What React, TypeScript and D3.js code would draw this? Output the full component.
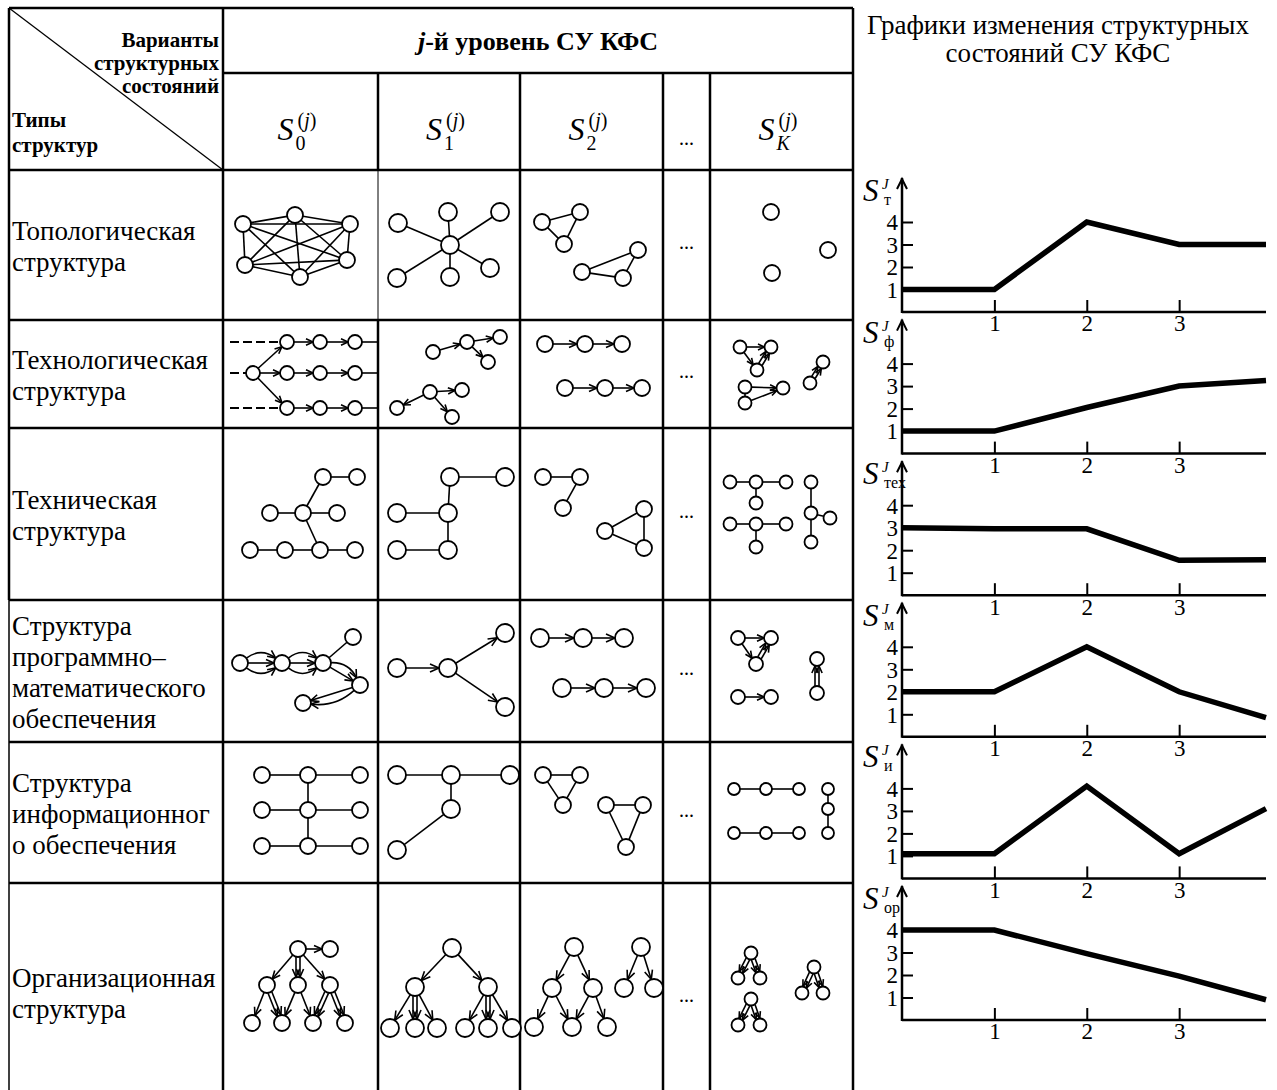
import React, { useRef, useEffect } from 'react';
import * as d3 from 'd3';

// ---- table texts ----
const headerCorner = ['Варианты', 'структурных', 'состояний'];
const headerTypes = ['Типы', 'структур'];
const stateSubs = ['0', '1', '2', '', 'K'];
const rowLabels = [
  ['Топологическая', 'структура'],
  ['Технологическая', 'структура'],
  ['Техническая', 'структура'],
  ['Структура', 'программно–', 'математического', 'обеспечения'],
  ['Структура', 'информационног', 'о обеспечения'],
  ['Организационная', 'структура'],
];

// ---- charts ----
const chartTitle = ['Графики изменения структурных', 'состояний СУ КФС'];
const chartSubs = ['т', 'ф', 'тех', 'м', 'и', 'ор'];
const stateX = [0, 1, 2, 3, 3.94];
const sT = [1, 1, 4, 3, 3];
const sF = [1, 1, 2.05, 3, 3.25];
const sTex = [3, 2.95, 2.95, 1.55, 1.58];
const sM = [2, 2, 4, 2, 0.85];
const sI = [1.1, 1.1, 4.1, 1.1, 3.1];
const sOr = [4, 4, 2.95, 1.95, 0.9];
const chartSeries = [sT, sF, sTex, sM, sI, sOr];
const xTicks = [1, 2, 3];
const yTicks = [1, 2, 3, 4];

// ---- structure graphs: node offsets inside a cell, edges [from, to, kind, bend] ----
type Edge = [number, number, string, number?];
interface Cell { row: number; col: number; r: number; nodes: number[][]; edges: Edge[] }

const topoCells: Cell[] = [
  { row: 0, col: 1, r: 8, nodes: [[20, 54], [72, 45], [127, 54], [22, 95], [124, 90], [77, 107]],
    edges: [[0, 1, 'l'], [0, 2, 'l'], [0, 3, 'l'], [0, 4, 'l'], [0, 5, 'l'], [1, 2, 'l'], [1, 3, 'l'], [1, 4, 'l'],
      [1, 5, 'l'], [2, 3, 'l'], [2, 4, 'l'], [2, 5, 'l'], [3, 4, 'l'], [3, 5, 'l'], [4, 5, 'l']] },
  { row: 0, col: 2, r: 9, nodes: [[72, 75], [20, 53], [70, 42], [122, 42], [19, 108], [72, 107], [112, 98]],
    edges: [[0, 1, 'l'], [0, 2, 'l'], [0, 3, 'l'], [0, 4, 'l'], [0, 5, 'l'], [0, 6, 'l']] },
  { row: 0, col: 3, r: 8, nodes: [[22, 52], [60, 42], [44, 74], [62, 102], [118, 80], [103, 108]],
    edges: [[0, 1, 'l'], [1, 2, 'l'], [2, 0, 'l'], [3, 4, 'l'], [4, 5, 'l'], [5, 3, 'l']] },
  { row: 0, col: 5, r: 8, nodes: [[61, 42], [118, 80], [62, 103]], edges: [] },
];

const technoCells: Cell[] = [
  { row: 1, col: 1, r: 7,
    nodes: [[64, 22], [97, 22], [132, 22], [30, 53], [64, 53], [97, 53], [132, 53], [64, 88], [97, 88], [132, 88],
      [7, 22, 0], [7, 53, 0], [7, 88, 0], [155, 22, 0], [155, 53, 0], [155, 88, 0]],
    edges: [[10, 0, 'd'], [11, 3, 'd'], [12, 7, 'd'], [0, 1, 'a'], [1, 2, 'a'], [3, 4, 'a'], [4, 5, 'a'], [5, 6, 'a'],
      [7, 8, 'a'], [8, 9, 'a'], [3, 0, 'a'], [3, 7, 'a'], [2, 13, 'l'], [6, 14, 'l'], [9, 15, 'l']] },
  { row: 1, col: 2, r: 7, nodes: [[55, 32], [89, 22], [122, 17], [110, 42], [19, 88], [52, 72], [84, 70], [74, 97]],
    edges: [[0, 1, 'a'], [1, 2, 'a'], [1, 3, 'a'], [5, 4, 'a'], [5, 6, 'a'], [5, 7, 'a']] },
  { row: 1, col: 3, r: 8, nodes: [[25, 24], [65, 24], [102, 24], [45, 68], [85, 68], [122, 68]],
    edges: [[0, 1, 'a'], [1, 2, 'a'], [3, 4, 'a'], [4, 5, 'a']] },
  { row: 1, col: 5, r: 6.5, nodes: [[30, 27], [61, 27], [47, 50], [35, 67], [35, 83], [73, 68], [100, 63], [113, 42]],
    edges: [[0, 1, 'a'], [0, 2, 'a'], [2, 1, 'a2'], [3, 5, 'a'], [4, 5, 'a'], [3, 4, 'l'], [6, 7, 'a2']] },
];

const techCells: Cell[] = [
  { row: 2, col: 1, r: 8, nodes: [[100, 49], [134, 49], [47, 85], [80, 85], [114, 85], [27, 122], [62, 122], [97, 122], [132, 122]],
    edges: [[0, 1, 'l'], [3, 0, 'l'], [2, 3, 'l'], [3, 4, 'l'], [3, 7, 'l'], [5, 6, 'l'], [6, 7, 'l'], [7, 8, 'l']] },
  { row: 2, col: 2, r: 9, nodes: [[72, 49], [127, 49], [19, 85], [70, 85], [19, 122], [70, 122]],
    edges: [[0, 1, 'l'], [0, 3, 'l'], [2, 3, 'l'], [3, 5, 'l'], [4, 5, 'l']] },
  { row: 2, col: 3, r: 8, nodes: [[23, 49], [60, 49], [43, 80], [85, 103], [124, 81], [124, 120]],
    edges: [[0, 1, 'l'], [1, 2, 'l'], [3, 4, 'l'], [4, 5, 'l'], [5, 3, 'l']] },
  { row: 2, col: 5, r: 6.5,
    nodes: [[20, 54], [46, 54], [76, 54], [46, 75], [20, 96], [46, 96], [76, 96], [46, 119], [101, 54], [101, 85], [120, 90], [101, 114]],
    edges: [[0, 1, 'l'], [1, 2, 'l'], [1, 3, 'l'], [4, 5, 'l'], [5, 6, 'l'], [5, 7, 'l'], [8, 9, 'l'], [9, 10, 'l'], [9, 11, 'l']] },
];

const softCells: Cell[] = [
  { row: 3, col: 1, r: 8, nodes: [[17, 63], [59, 63], [100, 63], [130, 37], [137, 85], [80, 103]],
    edges: [[0, 1, 'a'], [0, 1, 'a', -16], [0, 1, 'a', 16], [1, 2, 'a'], [1, 2, 'a', -16], [1, 2, 'a', 16], [2, 3, 'l'],
      [2, 4, 'a'], [2, 4, 'a', -14], [4, 5, 'a'], [4, 5, 'a', -14]] },
  { row: 3, col: 2, r: 9, nodes: [[19, 68], [70, 68], [127, 33], [127, 107]],
    edges: [[0, 1, 'a'], [1, 2, 'a'], [1, 3, 'a']] },
  { row: 3, col: 3, r: 9, nodes: [[20, 38], [63, 38], [104, 38], [42, 88], [84, 88], [126, 88]],
    edges: [[0, 1, 'a'], [1, 2, 'a'], [3, 4, 'a'], [4, 5, 'a']] },
  { row: 3, col: 5, r: 7, nodes: [[28, 38], [61, 38], [46, 64], [28, 97], [61, 97], [107, 59], [107, 93]],
    edges: [[0, 1, 'a'], [0, 2, 'a'], [2, 1, 'a2'], [3, 4, 'a'], [6, 5, 'a2']] },
];

const infoCells: Cell[] = [
  { row: 4, col: 1, r: 8, nodes: [[39, 33], [85, 33], [137, 33], [39, 68], [85, 68], [137, 68], [39, 104], [85, 104], [137, 104]],
    edges: [[0, 1, 'l'], [1, 2, 'l'], [3, 4, 'l'], [4, 5, 'l'], [6, 7, 'l'], [7, 8, 'l'], [1, 4, 'l'], [4, 7, 'l']] },
  { row: 4, col: 2, r: 9, nodes: [[19, 33], [73, 33], [132, 33], [73, 67], [19, 108]],
    edges: [[0, 1, 'l'], [1, 2, 'l'], [1, 3, 'l'], [3, 4, 'l']] },
  { row: 4, col: 3, r: 8, nodes: [[23, 33], [60, 33], [43, 63], [86, 63], [123, 63], [106, 105]],
    edges: [[0, 1, 'l'], [1, 2, 'l'], [2, 0, 'l'], [3, 4, 'l'], [4, 5, 'l'], [5, 3, 'l']] },
  { row: 4, col: 5, r: 6, nodes: [[24, 47], [56, 47], [89, 47], [24, 91], [56, 91], [89, 91], [118, 47], [118, 67], [118, 91]],
    edges: [[0, 1, 'l'], [1, 2, 'l'], [3, 4, 'l'], [4, 5, 'l'], [6, 7, 'l'], [7, 8, 'l']] },
];

const orgCells: Cell[] = [
  { row: 5, col: 1, r: 8, nodes: [[75, 66], [107, 66], [44, 102], [75, 102], [107, 102], [29, 140], [59, 140], [90, 140], [122, 140]],
    edges: [[0, 1, 'a'], [0, 2, 'a'], [0, 3, 'a2'], [0, 4, 'a'], [2, 5, 'a'], [2, 6, 'a2'], [3, 6, 'a'], [3, 7, 'a'],
      [4, 7, 'a2'], [4, 8, 'a2']] },
  { row: 5, col: 2, r: 9, nodes: [[74, 65], [37, 104], [110, 104], [12, 145], [37, 145], [59, 145], [87, 145], [110, 145], [134, 145]],
    edges: [[0, 1, 'a'], [0, 2, 'a'], [1, 3, 'a'], [1, 4, 'a2'], [1, 5, 'a'], [2, 6, 'a'], [2, 7, 'a2'], [2, 8, 'a']] },
  { row: 5, col: 3, r: 9, nodes: [[54, 64], [32, 105], [73, 105], [14, 144], [52, 144], [87, 144], [121, 64], [104, 105], [134, 105]],
    edges: [[0, 1, 'a'], [0, 2, 'a'], [1, 3, 'a'], [1, 4, 'a'], [2, 4, 'a'], [2, 5, 'a'], [6, 7, 'a'], [6, 8, 'a']] },
  { row: 5, col: 5, r: 6.5, nodes: [[41, 70], [28, 95], [50, 95], [41, 116], [28, 142], [50, 142], [104, 84], [92, 110], [113, 110]],
    edges: [[0, 1, 'a2'], [0, 2, 'a2'], [3, 4, 'a2'], [3, 5, 'a2'], [6, 7, 'a2'], [6, 8, 'a2']] },
];

const allCells = [...topoCells, ...technoCells, ...techCells, ...softCells, ...infoCells, ...orgCells];

const SERIF = '"Liberation Serif", "Times New Roman", serif';
const W = 1277;
const H = 1090;

const App: React.FC = () => {
  const svgRef = useRef<SVGSVGElement | null>(null);

  useEffect(() => {
    const svg = d3.select(svgRef.current);
    svg.selectAll('*').remove();
    svg.append('rect').attr('width', W).attr('height', H).attr('fill', '#fff');

    // table grid
    const colX = [9, 223, 378, 520, 663, 710, 853];
    const rowY = [8, 73, 170, 320, 428, 600, 742, 883, 1101];
    const grid = svg.append('g').attr('stroke', '#000').attr('stroke-width', 2.5).attr('fill', 'none');
    const hl = (x1: number, x2: number, y: number, w = 2.5) =>
      grid.append('line').attr('x1', x1).attr('x2', x2).attr('y1', y).attr('y2', y).attr('stroke-width', w);
    const vl = (x: number, y1: number, y2: number, w = 2.5) =>
      grid.append('line').attr('x1', x).attr('x2', x).attr('y1', y1).attr('y2', y2).attr('stroke-width', w);
    hl(colX[0], colX[6], rowY[0]);
    hl(colX[1], colX[6], rowY[1]);
    rowY.slice(2, 8).forEach(y => hl(colX[0], colX[6], y));
    vl(colX[0], rowY[0], 600);
    vl(colX[0], 600, H, 1.5);
    vl(colX[1], rowY[0], H);
    vl(colX[2], rowY[1], rowY[2]);
    vl(colX[2], rowY[2], rowY[3], 1);
    vl(colX[2], rowY[3], H);
    [3, 4, 5].forEach(i => vl(colX[i], rowY[1], H));
    vl(colX[6], rowY[0], H);
    grid.append('line').attr('x1', colX[0]).attr('y1', rowY[0]).attr('x2', colX[1]).attr('y2', rowY[2])
      .attr('stroke-width', 1.3);

    // header texts
    const head = svg.append('g').attr('font-family', SERIF).attr('fill', '#000');
    headerCorner.forEach((t, i) =>
      head.append('text').attr('x', 219).attr('y', 47 + i * 23).attr('text-anchor', 'end')
        .attr('font-size', 21).attr('font-weight', 'bold').text(t));
    headerTypes.forEach((t, i) =>
      head.append('text').attr('x', 12).attr('y', 127 + i * 25).attr('font-size', 21).attr('font-weight', 'bold').text(t));
    const lvl = head.append('text').attr('x', (colX[1] + colX[6]) / 2).attr('y', 50).attr('text-anchor', 'middle')
      .attr('font-size', 26).attr('font-weight', 'bold');
    lvl.append('tspan').attr('font-style', 'italic').text('j');
    lvl.append('tspan').text('-й уровень СУ КФС');

    stateSubs.forEach((sub, i) => {
      const c = i + 1;
      const cx = (colX[c] + colX[c + 1]) / 2;
      if (sub === '') {
        head.append('text').attr('x', cx).attr('y', 145).attr('text-anchor', 'middle').attr('font-size', 20).text('...');
        return;
      }
      const s = head.append('text').attr('x', cx - 23).attr('y', 140).attr('font-size', 32);
      s.append('tspan').attr('font-style', 'italic').text('S');
      head.append('text').attr('x', cx - 5).attr('y', 150).attr('font-size', 20)
        .attr('font-style', sub === 'K' ? 'italic' : 'normal').text(sub);
      const sup = head.append('text').attr('x', cx - 3).attr('y', 127).attr('font-size', 20);
      sup.append('tspan').text('(');
      sup.append('tspan').attr('font-style', 'italic').text('j');
      sup.append('tspan').text(')');
    });

    // row labels and ellipses
    rowLabels.forEach((lines, i) => {
      const top = rowY[i + 2];
      const bottom = rowY[i + 3];
      const cy = (top + bottom) / 2;
      const lh = 31;
      lines.forEach((t, k) =>
        head.append('text').attr('x', 12).attr('y', cy - ((lines.length - 1) * lh) / 2 + 10 + k * lh)
          .attr('font-size', 27).text(t));
      head.append('text').attr('x', (colX[4] + colX[5]) / 2).attr('y', (i === 5 ? 998 : cy) + 4)
        .attr('text-anchor', 'middle').attr('font-size', 20).text('...');
    });

    // structure graphs
    const gg = svg.append('g');
    const arrowHead = (x: number, y: number, ux: number, uy: number, len: number) => {
      const px = -uy;
      const py = ux;
      const bx = x - ux * len;
      const by = y - uy * len;
      const p = d3.path();
      p.moveTo(bx + px * len * 0.45, by + py * len * 0.45);
      p.lineTo(x, y);
      p.lineTo(bx - px * len * 0.45, by - py * len * 0.45);
      gg.append('path').attr('d', p.toString()).attr('fill', 'none').attr('stroke', '#000').attr('stroke-width', 1.6);
    };

    allCells.forEach(cell => {
      const x0 = colX[cell.col];
      const x1 = colX[cell.col + 1];
      const y0 = rowY[cell.row + 2];
      const y1 = rowY[cell.row + 3];
      const sx = d3.scaleLinear().domain([0, x1 - x0]).range([x0, x1]);
      const sy = d3.scaleLinear().domain([0, y1 - y0]).range([y0, y1]);
      const pts = cell.nodes.map(n => [sx(n[0]), sy(n[1]), n.length > 2 ? n[2] : cell.r]);
      const head = Math.max(6, cell.r);

      cell.edges.forEach(([i, j, kind, bend]) => {
        const [ax, ay, ar] = pts[i];
        const [bx, by, br] = pts[j];
        const dx = bx - ax;
        const dy = by - ay;
        const len = Math.hypot(dx, dy);
        const ux = dx / len;
        const uy = dy / len;
        const px = -uy;
        const py = ux;
        const arrow = kind === 'a' || kind === 'a2';
        const offs = kind === 'a2' ? [-2, 2] : [0];
        offs.forEach(o => {
          if (bend) {
            const cx = (ax + bx) / 2 + px * bend;
            const cy = (ay + by) / 2 + py * bend;
            const sl = Math.hypot(cx - ax, cy - ay);
            const el = Math.hypot(bx - cx, by - cy);
            const sxp = ax + ((cx - ax) / sl) * ar;
            const syp = ay + ((cy - ay) / sl) * ar;
            const ex = bx - ((bx - cx) / el) * br;
            const ey = by - ((by - cy) / el) * br;
            const p = d3.path();
            p.moveTo(sxp, syp);
            p.quadraticCurveTo(cx, cy, ex, ey);
            gg.append('path').attr('d', p.toString()).attr('fill', 'none').attr('stroke', '#000').attr('stroke-width', 1.6);
            if (arrow) arrowHead(ex, ey, (bx - cx) / el, (by - cy) / el, head);
          } else {
            const sxp = ax + ux * ar + px * o;
            const syp = ay + uy * ar + py * o;
            const ex = bx - ux * br + px * o;
            const ey = by - uy * br + py * o;
            const ln = gg.append('line').attr('x1', sxp).attr('y1', syp).attr('x2', ex).attr('y2', ey)
              .attr('stroke', '#000').attr('stroke-width', kind === 'd' ? 2 : 1.6);
            if (kind === 'd') ln.attr('stroke-dasharray', '9,4');
            if (arrow) arrowHead(ex, ey, ux, uy, head);
          }
        });
      });

      gg.selectAll(null)
        .data(pts.filter(p => p[2] > 0))
        .enter()
        .append('circle')
        .attr('cx', d => d[0])
        .attr('cy', d => d[1])
        .attr('r', d => d[2])
        .attr('fill', '#fff')
        .attr('stroke', '#000')
        .attr('stroke-width', 1.8);
    });

    // right side: title
    chartTitle.forEach((t, i) =>
      svg.append('text').attr('x', 1058).attr('y', 34 + i * 28).attr('text-anchor', 'middle')
        .attr('font-family', SERIF).attr('font-size', 27).text(t));

    // state charts
    const x = d3.scaleLinear().domain([0, 3.94]).range([902, 1266]);
    chartSeries.forEach((vals, i) => {
      const axisY = 312 + i * 141.6;
      const y = d3.scaleLinear().domain([0, 4]).range([axisY, axisY - 90]);
      const g = svg.append('g').attr('font-family', SERIF);
      const tip = axisY - 134;

      const ya = g.append('g').attr('transform', `translate(${x(0)},0)`)
        .call(d3.axisLeft(y).tickValues(yTicks).tickSize(-11).tickPadding(4).tickFormat(d3.format('d')));
      ya.select('.domain').remove();
      ya.selectAll('line').attr('stroke-width', 2);
      ya.selectAll('text').attr('font-size', 23).attr('font-family', SERIF).attr('dy', '0.34em');

      const xa = g.append('g').attr('transform', `translate(0,${axisY})`)
        .call(d3.axisBottom(x).tickValues(xTicks).tickSize(-12).tickPadding(3).tickFormat(d3.format('d')));
      xa.select('.domain').remove();
      xa.selectAll('line').attr('stroke-width', 2);
      xa.selectAll('text').attr('font-size', 23).attr('font-family', SERIF);

      g.append('line').attr('x1', x(0)).attr('x2', x(3.94)).attr('y1', axisY).attr('y2', axisY)
        .attr('stroke', '#000').attr('stroke-width', 2.5);
      g.append('line').attr('x1', x(0)).attr('x2', x(0)).attr('y1', axisY + 1).attr('y2', tip)
        .attr('stroke', '#000').attr('stroke-width', 2.5);
      g.append('path').attr('d', `M${x(0) - 5},${tip + 11}L${x(0)},${tip + 1}L${x(0) + 5},${tip + 11}`)
        .attr('fill', 'none').attr('stroke', '#000').attr('stroke-width', 2);

      const line = d3.line<number>().x((_, k) => x(stateX[k])).y(d => y(d));
      g.append('path').attr('d', line(vals) || '').attr('fill', 'none').attr('stroke', '#000')
        .attr('stroke-width', 5.5).attr('stroke-linejoin', 'miter');

      g.append('text').attr('x', 863).attr('y', tip + 23).attr('font-size', 31).attr('font-style', 'italic').text('S');
      g.append('text').attr('x', 882).attr('y', tip + 11).attr('font-size', 15).attr('font-style', 'italic').text('J');
      g.append('text').attr('x', 884).attr('y', tip + 27).attr('font-size', 16).text(chartSubs[i]);
    });
  }, []);

  return <svg ref={svgRef} width={W} height={H} style={{ position: 'absolute', left: 0, top: 0 }}></svg>;
};

export default App;
